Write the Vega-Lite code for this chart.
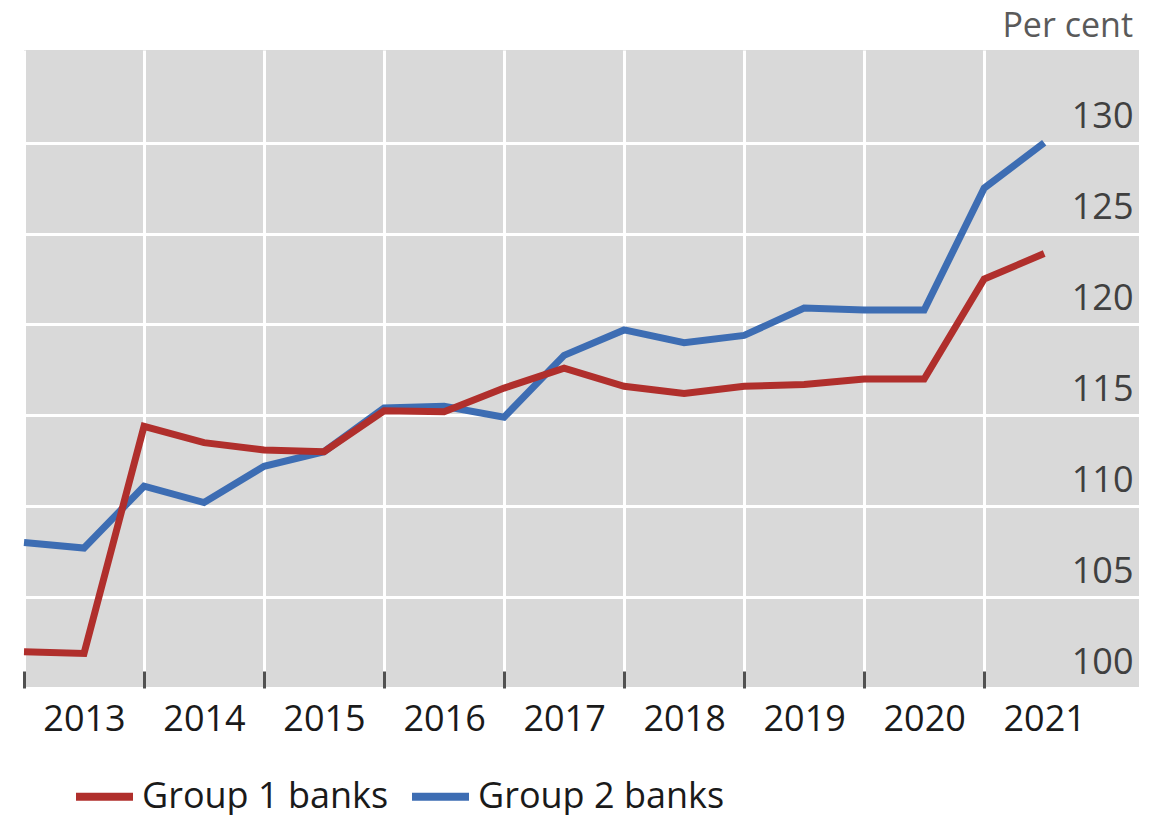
{
  "$schema": "https://vega.github.io/schema/vega-lite/v6.json",
  "autosize": {"type": "none"},
  "padding": {"left": 24, "top": 50, "right": 26, "bottom": 127},
  "width": 1115,
  "height": 638,
  "background": "white",
  "title": {
    "text": "Per cent",
    "anchor": "end",
    "frame": "group",
    "orient": "top",
    "baseline": "alphabetic",
    "offset": 14,
    "dy": 35,
    "dx": -6,
    "font": "Open Sans",
    "fontSize": 34,
    "fontWeight": "normal",
    "color": "#5a5a5a"
  },
  "config": {
    "view": {"fill": "#d9d9d9", "stroke": null},
    "font": "Open Sans"
  },
  "data": {
    "values": [
      {"t": 2013.0, "series": "Group 1 banks", "value": 102.0},
      {"t": 2013.5, "series": "Group 1 banks", "value": 101.9},
      {"t": 2014.0, "series": "Group 1 banks", "value": 114.4},
      {"t": 2014.5, "series": "Group 1 banks", "value": 113.5},
      {"t": 2015.0, "series": "Group 1 banks", "value": 113.1},
      {"t": 2015.5, "series": "Group 1 banks", "value": 113.0},
      {"t": 2016.0, "series": "Group 1 banks", "value": 115.25},
      {"t": 2016.5, "series": "Group 1 banks", "value": 115.2},
      {"t": 2017.0, "series": "Group 1 banks", "value": 116.5},
      {"t": 2017.5, "series": "Group 1 banks", "value": 117.6},
      {"t": 2018.0, "series": "Group 1 banks", "value": 116.6},
      {"t": 2018.5, "series": "Group 1 banks", "value": 116.2},
      {"t": 2019.0, "series": "Group 1 banks", "value": 116.6},
      {"t": 2019.5, "series": "Group 1 banks", "value": 116.7},
      {"t": 2020.0, "series": "Group 1 banks", "value": 117.0},
      {"t": 2020.5, "series": "Group 1 banks", "value": 117.0},
      {"t": 2021.0, "series": "Group 1 banks", "value": 122.5},
      {"t": 2021.5, "series": "Group 1 banks", "value": 123.9},
      {"t": 2013.0, "series": "Group 2 banks", "value": 108.0},
      {"t": 2013.5, "series": "Group 2 banks", "value": 107.7},
      {"t": 2014.0, "series": "Group 2 banks", "value": 111.1},
      {"t": 2014.5, "series": "Group 2 banks", "value": 110.2},
      {"t": 2015.0, "series": "Group 2 banks", "value": 112.2},
      {"t": 2015.5, "series": "Group 2 banks", "value": 113.0},
      {"t": 2016.0, "series": "Group 2 banks", "value": 115.4},
      {"t": 2016.5, "series": "Group 2 banks", "value": 115.5},
      {"t": 2017.0, "series": "Group 2 banks", "value": 114.9},
      {"t": 2017.5, "series": "Group 2 banks", "value": 118.3},
      {"t": 2018.0, "series": "Group 2 banks", "value": 119.7},
      {"t": 2018.5, "series": "Group 2 banks", "value": 119.0},
      {"t": 2019.0, "series": "Group 2 banks", "value": 119.4},
      {"t": 2019.5, "series": "Group 2 banks", "value": 120.9},
      {"t": 2020.0, "series": "Group 2 banks", "value": 120.8},
      {"t": 2020.5, "series": "Group 2 banks", "value": 120.8},
      {"t": 2021.0, "series": "Group 2 banks", "value": 127.5},
      {"t": 2021.5, "series": "Group 2 banks", "value": 130.0}
    ]
  },
  "encoding": {
    "x": {
      "field": "t",
      "type": "quantitative",
      "scale": {"domain": [2013, 2022.29], "nice": false, "zero": false},
      "axis": {
        "title": null,
        "values": [2013, 2014, 2015, 2016, 2017, 2018, 2019, 2020, 2021],
        "format": "d",
        "domain": false,
        "grid": true,
        "gridColor": "white",
        "gridWidth": 3,
        "gridOpacity": 1,
        "ticks": true,
        "tickSize": -17,
        "tickWidth": 3,
        "tickColor": "#505050",
        "labelOffset": 60,
        "labelPadding": 31,
        "labelFlush": false,
        "labelOverlap": false,
        "labelFont": "Open Sans",
        "labelFontSize": 36,
        "labelColor": "#1a1a1a",
        "labelBaseline": "top"
      }
    },
    "y": {
      "field": "value",
      "type": "quantitative",
      "scale": {"domain": [100, 135.1], "nice": false, "zero": false},
      "axis": {
        "title": null,
        "orient": "right",
        "values": [100, 105, 110, 115, 120, 125, 130],
        "domain": false,
        "ticks": false,
        "grid": true,
        "gridColor": "white",
        "gridWidth": 3,
        "gridOpacity": 1,
        "labelAlign": "right",
        "labelBaseline": "alphabetic",
        "labelPadding": -6,
        "labelOffset": -15,
        "labelFont": "Open Sans",
        "labelFontSize": 36,
        "labelColor": "#404040",
        "labelFlush": false,
        "labelOverlap": false
      }
    },
    "color": {
      "field": "series",
      "type": "nominal",
      "scale": {"domain": ["Group 1 banks", "Group 2 banks"], "range": ["#b02f2c", "#3d6db3"]},
      "legend": {
        "title": null,
        "orient": "none",
        "legendX": 48,
        "legendY": 714,
        "direction": "horizontal",
        "symbolType": "stroke",
        "symbolSize": 3249,
        "symbolStrokeWidth": 8,
        "labelFont": "Open Sans",
        "labelFontSize": 36,
        "labelColor": "#1a1a1a",
        "labelOffset": 5,
        "columnPadding": 7,
        "padding": 0,
        "labelLimit": 400
      }
    }
  },
  "layer": [
    {
      "transform": [{"filter": "datum.series === 'Group 2 banks'"}],
      "mark": {"type": "line", "strokeWidth": 7}
    },
    {
      "transform": [{"filter": "datum.series === 'Group 1 banks'"}],
      "mark": {"type": "line", "strokeWidth": 7}
    }
  ]
}
